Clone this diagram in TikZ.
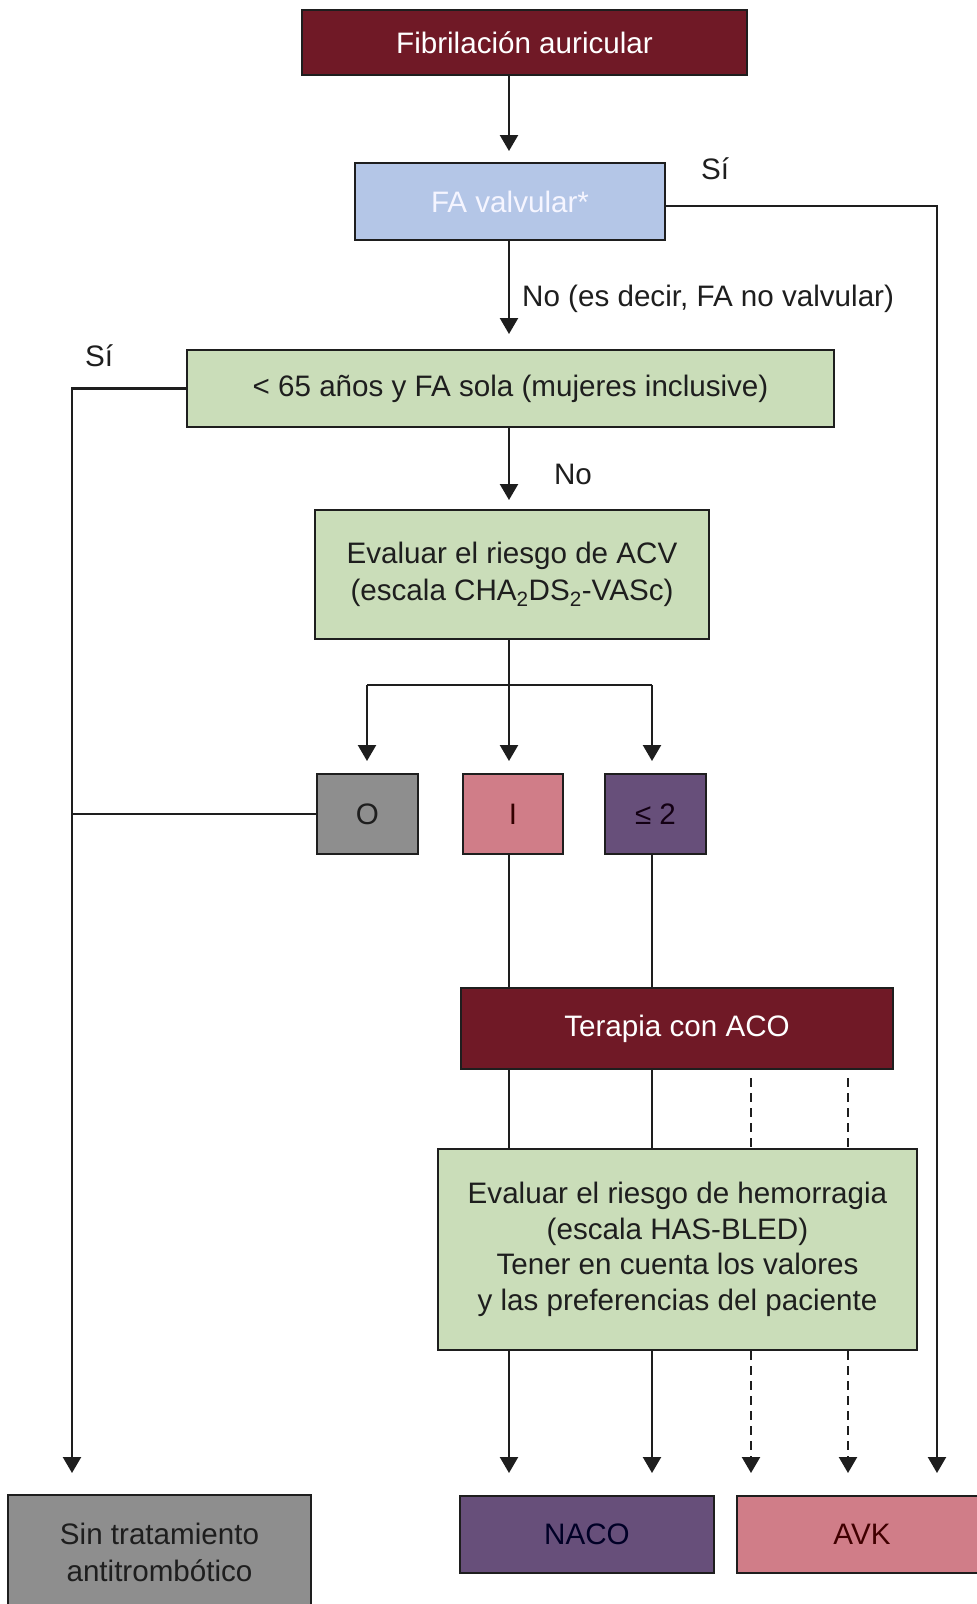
\documentclass[tikz,border=0pt]{standalone}
\usepackage{fontspec}
\setmainfont{Liberation Sans}
\usetikzlibrary{arrows.meta}
\definecolor{dred}{HTML}{701926}
\definecolor{lblue}{HTML}{B4C6E7}
\definecolor{lgreen}{HTML}{CADDB9}
\definecolor{gbox}{HTML}{8E8E8E}
\definecolor{pbox}{HTML}{D07D88}
\definecolor{vbox}{HTML}{674F7A}
\definecolor{ink}{HTML}{1E1E1E}
\begin{document}
\begin{tikzpicture}[x=1pt,y=-1pt,
  box/.style={draw=ink, line width=2pt, inner sep=0pt, align=center, text=ink,
    font=\fontsize{29.6}{37}\selectfont},
  conn/.style={line width=2.3pt, draw=ink},
  arr/.style={conn, -{Triangle[width=18pt,length=16pt]}},
  dsh/.style={dash pattern=on 9pt off 6pt},
  lbl/.style={font=\fontsize{29.6}{37}\selectfont, inner sep=0pt, text=ink}]
\useasboundingbox (0,0) rectangle (977,1604);
\fill[white] (0,0) rectangle (977,1604);

% boxes
\node[box, fill=dred, text=white, minimum width=445pt, minimum height=65pt] (fib) at (524.5,42.5) {Fibrilación auricular};
\node[box, fill=lblue, text=white!96!blue, minimum width=310pt, minimum height=77pt] (fav) at (510,201.5) {FA valvular*};
\node[box, fill=lgreen, minimum width=647pt, minimum height=77pt] (lt) at (510.5,388.5) {< 65 años y FA sola (mujeres inclusive)};
\node[box, fill=lgreen, minimum width=394pt, minimum height=129pt] (acv) at (512,574.5) {Evaluar el riesgo de ACV\\(escala CHA\textsubscript{2}DS\textsubscript{2}-VASc)};
\node[box, fill=gbox, minimum width=101pt, minimum height=80pt] (s0) at (367.5,814) {O};
\node[box, fill=pbox, text=black!80!red, minimum width=100pt, minimum height=80pt] (s1) at (513,814) {I};
\node[box, fill=vbox, text=black!85!violet, minimum width=101pt, minimum height=80pt] (s2) at (655.5,814) {≤ 2};
\node[box, fill=dred, text=white, minimum width=432pt, minimum height=81pt] (ter) at (677,1028.5) {Terapia con ACO};
\node[box, fill=lgreen, minimum width=479pt, minimum height=201pt,
  font=\fontsize{29.6}{35.5}\selectfont] (has) at (677.5,1249.5) {Evaluar el riesgo de hemorragia\\(escala HAS-BLED)\\Tener en cuenta los valores\\y las preferencias del paciente};
\node[box, fill=gbox, minimum width=303pt, minimum height=115pt] (sin) at (159.5,1552) {Sin tratamiento\\antitrombótico};
\node[box, fill=vbox, text=black!85!blue, minimum width=254pt, minimum height=77pt] (naco) at (587,1534.5) {NACO};
\node[box, fill=pbox, text=black!75!red, minimum width=250pt, minimum height=77pt] (avk) at (862,1534.5) {AVK};

% labels
\node[lbl] (si1) at (715,169) {Sí};
\node[lbl, anchor=west] (no1) at (522,299) {No (es decir, FA no valvular)};
\node[lbl] (si2) at (99,356) {Sí};
\node[lbl] (no2) at (573,474) {No};

% helper coordinates
\coordinate (sx) at (509,0);
\coordinate (lx) at (72,0);
\coordinate (rx) at (937,0);
\coordinate (bx0) at (367,0);
\coordinate (bx2) at (652,0);
\coordinate (d1) at (751,0);
\coordinate (d2) at (848,0);
\coordinate (tipy) at (0,1473);
\coordinate (bry) at (0,685);
\coordinate (fay) at (0,206);

% connectors
\draw[arr, shorten >=11pt] (fib.south -| sx) -- (fav.north -| sx);
\draw[arr, shorten >=15pt] (fav.south -| sx) -- (lt.north -| sx);
\draw[arr, shorten >=9pt] (lt.south -| sx) -- (acv.north -| sx);
\draw[conn] (acv.south -| sx) -- (bry -| sx);
\draw[conn] (bry -| bx0) -- (bry -| bx2);
\draw[arr, shorten >=12pt] (bry -| bx0) -- (s0.north -| bx0);
\draw[arr, shorten >=12pt] (bry -| sx) -- (s1.north -| sx);
\draw[arr, shorten >=12pt] (bry -| bx2) -- (s2.north -| bx2);

\draw[arr] (fay -| fav.east) -- (fay -| rx) -- (rx |- tipy);
\draw[arr] (lt.west) -- (lt.west -| lx) -- (lx |- tipy);
\draw[conn] (s0.west) -- (s0.west -| lx);

\draw[conn] (s1.south -| sx) -- (ter.north -| sx);
\draw[conn] (s2.south -| bx2) -- (ter.north -| bx2);
\draw[conn] (ter.south -| sx) -- (has.north -| sx);
\draw[conn] (ter.south -| bx2) -- (has.north -| bx2);
\draw[conn, dsh, shorten <=8pt] (ter.south -| d1) -- (has.north -| d1);
\draw[conn, dsh, shorten <=8pt] (ter.south -| d2) -- (has.north -| d2);

\draw[arr] (has.south -| sx) -- (sx |- tipy);
\draw[arr] (has.south -| bx2) -- (bx2 |- tipy);
\draw[arr, dsh] (has.south -| d1) -- (d1 |- tipy);
\draw[arr, dsh] (has.south -| d2) -- (d2 |- tipy);
\end{tikzpicture}
\end{document}
